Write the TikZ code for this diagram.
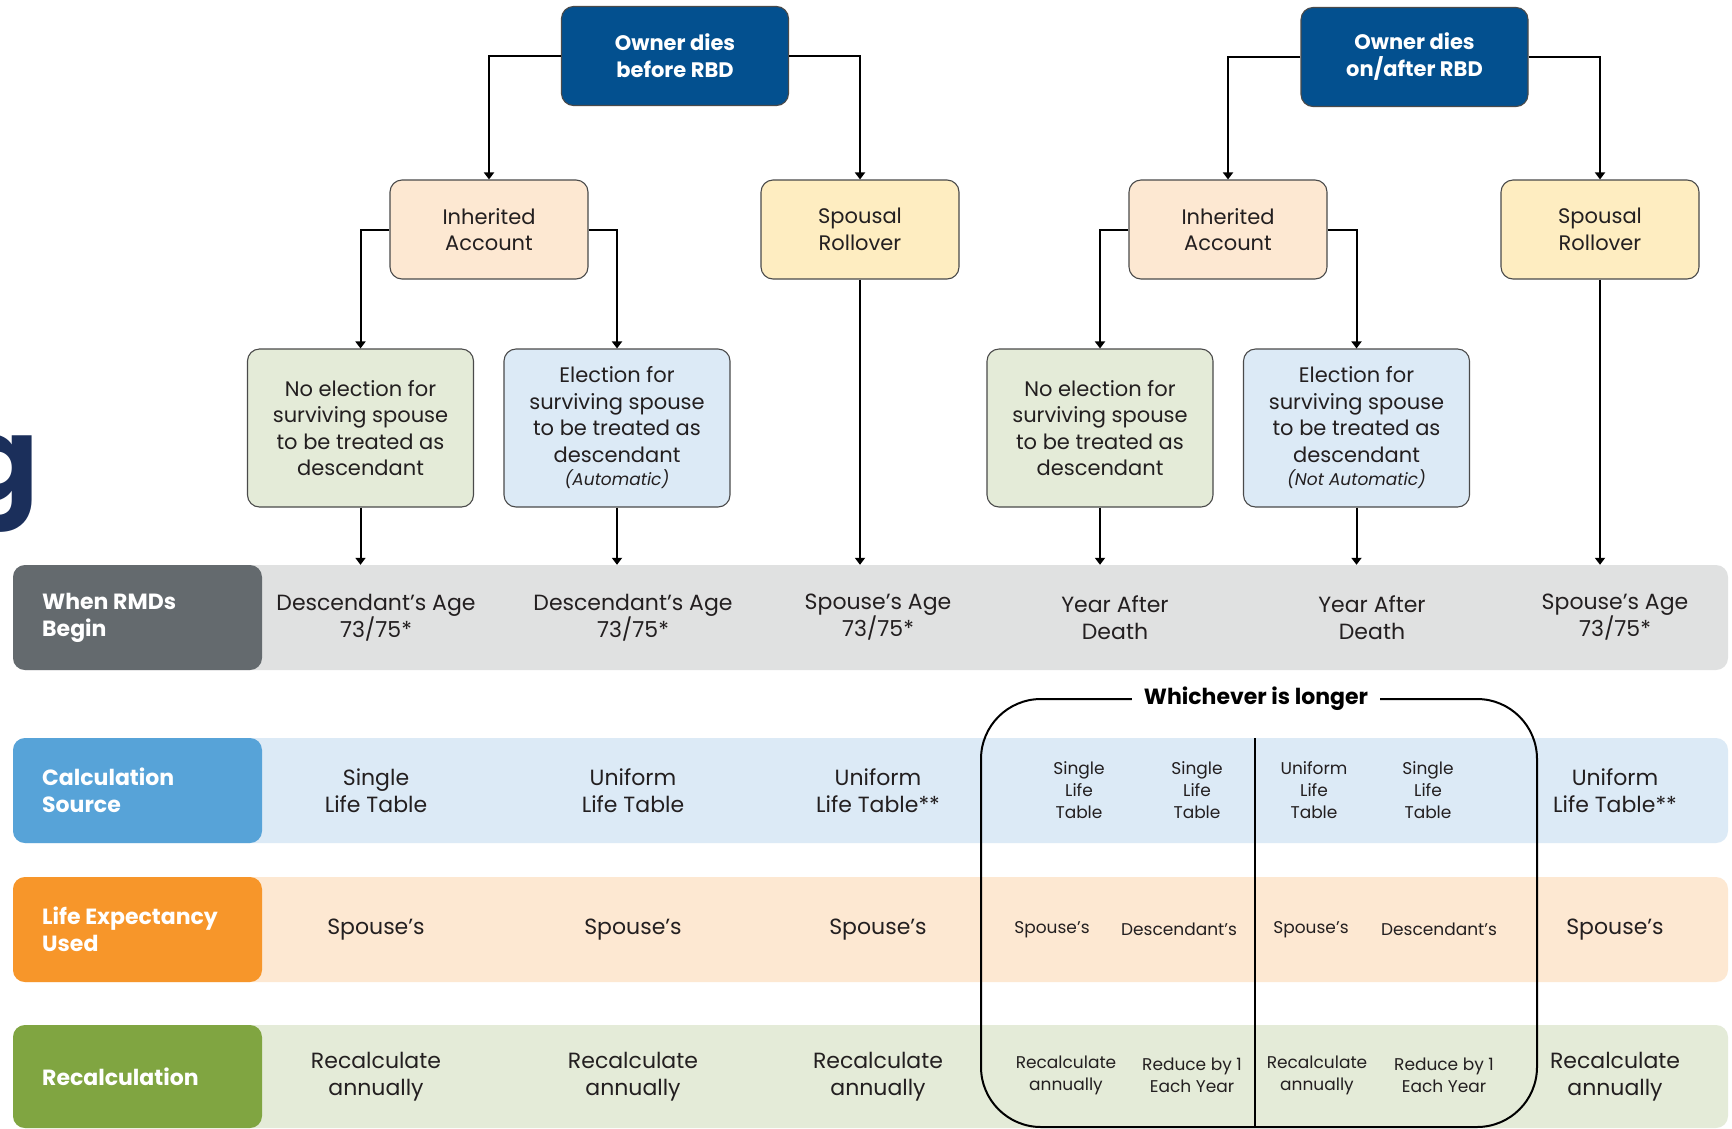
\documentclass[tikz,border=0pt]{standalone}
\usepackage{fontspec}
\setmainfont{Poppins}
\usetikzlibrary{arrows.meta}
\definecolor{topblue}{HTML}{03508F}
\definecolor{inhfill}{HTML}{FDE8D2}
\definecolor{spfill}{HTML}{FEEDC1}
\definecolor{nefill}{HTML}{E4EBD8}
\definecolor{elfill}{HTML}{DCEAF6}
\definecolor{graybg}{HTML}{E0E1E1}
\definecolor{graylbl}{HTML}{646A6E}
\definecolor{bluebg}{HTML}{DCEAF6}
\definecolor{bluelbl}{HTML}{57A3D8}
\definecolor{orangebg}{HTML}{FDE8D2}
\definecolor{orangelbl}{HTML}{F7962A}
\definecolor{greenbg}{HTML}{E4EBD8}
\definecolor{greenlbl}{HTML}{80A541}
\definecolor{navy}{HTML}{1B2F5B}
\definecolor{txt}{HTML}{231F20}
\definecolor{boxline}{HTML}{4A4A4A}
\begin{document}
\begin{tikzpicture}[x=1pt,y=-1pt,
  box/.style={draw=boxline, line width=1.1pt, rounded corners=12pt, inner sep=0pt, align=center, text=txt, font=\fontsize{21}{26.5}\selectfont},
  topbox/.style={box, fill=topblue, text=white, font=\bfseries\fontsize{21}{27}\selectfont, minimum width=227, minimum height=99},
  inhbox/.style={box, fill=inhfill, minimum width=198, minimum height=99},
  spbox/.style={box, fill=spfill, minimum width=198, minimum height=99},
  nebox/.style={box, fill=nefill, minimum width=226, minimum height=158},
  elbox/.style={box, fill=elfill, minimum width=226, minimum height=158},
  conn/.style={draw=black, line width=2pt, -{Triangle[length=7pt,width=10pt]}},
  rowbg/.style={rounded corners=12pt, inner sep=0pt, minimum width=1715},
  lblbox/.style={rounded corners=12pt, inner sep=0pt, minimum width=249},
  lbltxt/.style={anchor=west, align=left, text=white, inner sep=0pt, font=\bfseries\fontsize{22}{27}\selectfont},
  cell/.style={align=center, text=txt, inner sep=0pt, font=\fontsize{22}{27}\selectfont},
  small/.style={align=center, text=txt, inner sep=0pt, font=\fontsize{17}{22}\selectfont},
  bracket/.style={draw=black, line width=2pt}
]
\useasboundingbox (0,0) rectangle (1732,1128);
\fill[white] (0,0) rectangle (1732,1128);

% fragment of large letter at the left edge
\node[anchor=base east, inner sep=0pt, text=navy, font=\bfseries\fontsize{116}{116}\selectfont] (gfrag) at (39,500) {g};

% top boxes
\node[topbox] (top1) at (675,56) {Owner dies\\before RBD};
\node[topbox] (top2) at (1414.5,57) {Owner dies\\on/after RBD};
\node[inhbox] (inh1) at (489,229.5) {Inherited\\Account};
\node[spbox] (sp1) at (860,229.5) {Spousal\\Rollover};
\node[inhbox] (inh2) at (1228,229.5) {Inherited\\Account};
\node[spbox] (sp2) at (1600,229.5) {Spousal\\Rollover};
\node[nebox] (ne1) at (360.5,428) {No election for\\surviving spouse\\to be treated as\\descendant};
\node[elbox] (el1) at (617,428) {Election for\\surviving spouse\\to be treated as\\descendant\\[-3pt]{\itshape\fontsize{17}{22}\selectfont (Automatic)}};
\node[nebox] (ne2) at (1100,428) {No election for\\surviving spouse\\to be treated as\\descendant};
\node[elbox] (el2) at (1356.5,428) {Election for\\surviving spouse\\to be treated as\\descendant\\[-3pt]{\itshape\fontsize{17}{22}\selectfont (Not Automatic)}};

% rows
\node[rowbg, fill=graybg, minimum height=105] (rmdrow) at (870.5,617.5) {};
\node[lblbox, fill=graylbl, minimum height=105] (rmdlbl) at (137.5,617.5) {};
\node[lbltxt] (rmdtxt) at (42,617.5) {When RMDs\\Begin};

\node[rowbg, fill=bluebg, minimum height=105] (calcrow) at (870.5,790.5) {};
\node[lblbox, fill=bluelbl, minimum height=105] (calclbl) at (137.5,790.5) {};
\node[lbltxt] (calctxt) at (42,790.5) {Calculation\\Source};

\node[rowbg, fill=orangebg, minimum height=105] (lerow) at (870.5,929.5) {};
\node[lblbox, fill=orangelbl, minimum height=105] (lelbl) at (137.5,929.5) {};
\node[lbltxt] (letxt) at (42,929.5) {Life Expectancy\\Used};

\node[rowbg, fill=greenbg, minimum height=103] (recrow) at (870.5,1076.5) {};
\node[lblbox, fill=greenlbl, minimum height=103] (reclbl) at (137.5,1076.5) {};
\node[lbltxt] (rectxt) at (42,1076.5) {Recalculation};

% connectors
\draw[conn] (top1.west) -| (inh1.north);
\draw[conn] (top1.east) -| (sp1.north);
\draw[conn] (inh1.west) -| (ne1.north);
\draw[conn] (inh1.east) -| (el1.north);
\draw[conn] (top2.west) -| (inh2.north);
\draw[conn] (top2.east) -| (sp2.north);
\draw[conn] (inh2.west) -| (ne2.north);
\draw[conn] (inh2.east) -| (el2.north);
\draw[conn] (ne1.south) -- (ne1.south |- rmdrow.north);
\draw[conn] (el1.south) -- (el1.south |- rmdrow.north);
\draw[conn] (sp1.south) -- (sp1.south |- rmdrow.north);
\draw[conn] (ne2.south) -- (ne2.south |- rmdrow.north);
\draw[conn] (el2.south) -- (el2.south |- rmdrow.north);
\draw[conn] (sp2.south) -- (sp2.south |- rmdrow.north);

% row 1 texts
\node[cell] (r1c1) at (376,617.5) {Descendant’s Age\\73/75*};
\node[cell] (r1c2) at (633,617.5) {Descendant’s Age\\73/75*};
\node[cell] (r1c3) at (878,617.5) {Spouse’s Age\\73/75*};
\node[cell] (r1c4) at (1115,617.5) {Year After\\Death};
\node[cell] (r1c5) at (1372,617.5) {Year After\\Death};
\node[cell] (r1c6) at (1615,617.5) {Spouse’s Age\\73/75*};

% row 2 texts
\node[cell] (r2c1) at (376,790.5) {Single\\Life Table};
\node[cell] (r2c2) at (633,790.5) {Uniform\\Life Table};
\node[cell] (r2c3) at (878,790.5) {Uniform\\Life Table**};
\node[small] (r2a) at (1079,790.5) {Single\\Life\\Table};
\node[small] (r2b) at (1197,790.5) {Single\\Life\\Table};
\node[small] (r2c) at (1314,790.5) {Uniform\\Life\\Table};
\node[small] (r2d) at (1428,790.5) {Single\\Life\\Table};
\node[cell] (r2c6) at (1615,790.5) {Uniform\\Life Table**};

% row 3 texts
\node[cell] (r3c1) at (376,929.5) {Spouse’s};
\node[cell] (r3c2) at (633,929.5) {Spouse’s};
\node[cell] (r3c3) at (878,929.5) {Spouse’s};
\node[small] (r3a) at (1052,929.5) {Spouse’s};
\node[small] (r3b) at (1179,929.5) {Descendant’s};
\node[small] (r3c) at (1311,929.5) {Spouse’s};
\node[small] (r3d) at (1439,929.5) {Descendant’s};
\node[cell] (r3c6) at (1615,929.5) {Spouse’s};

% row 4 texts
\node[cell] (r4c1) at (376,1076.5) {Recalculate\\annually};
\node[cell] (r4c2) at (633,1076.5) {Recalculate\\annually};
\node[cell] (r4c3) at (878,1076.5) {Recalculate\\annually};
\node[small] (r4a) at (1066,1075) {Recalculate\\annually};
\node[small] (r4b) at (1192,1075) {Reduce by 1\\Each Year};
\node[small] (r4c) at (1317,1075) {Recalculate\\annually};
\node[small] (r4d) at (1444,1075) {Reduce by 1\\Each Year};
\node[cell] (r4c6) at (1615,1076.5) {Recalculate\\annually};

% whichever bracket
\draw[bracket, rounded corners=60pt] (981,699) rectangle (1537,1127);
\draw[bracket] (1255,738) -- (1255,1128);
\node[fill=white, inner xsep=12pt, inner ysep=3pt, text=black, font=\bfseries\fontsize{22}{27}\selectfont] (which) at (1256,699) {Whichever is longer};
\end{tikzpicture}
\end{document}
